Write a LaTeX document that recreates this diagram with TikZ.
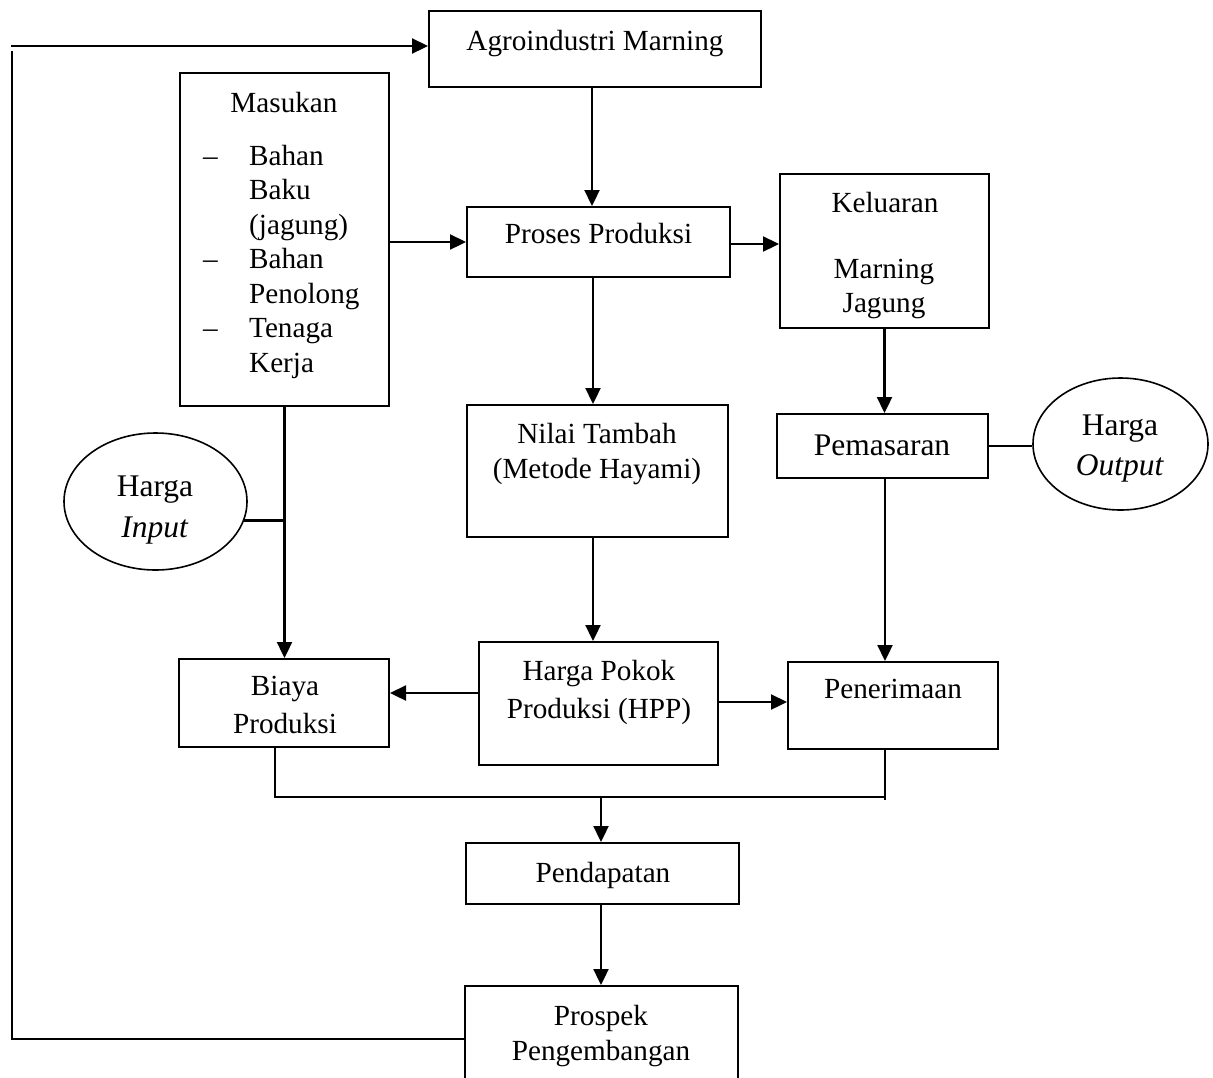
\documentclass[tikz,border=0pt]{standalone}
\usepackage{fontspec}
\setmainfont{Liberation Serif}
\usetikzlibrary{arrows.meta,shapes.geometric}
\newcommand\mylines[1]{\begin{tabular}[t]{@{}c@{}}#1\end{tabular}}
\begin{document}
\begin{tikzpicture}[x=1pt,y=-1pt,
  box/.style={draw,line width=2pt,rectangle,inner sep=0pt},
  oval/.style={draw,line width=1.6pt,ellipse,inner sep=0pt},
  txt/.style={inner sep=0pt,anchor=base,font=\fontsize{29.2}{35}\selectfont},
  big/.style={inner sep=0pt,anchor=base,font=\fontsize{31.5}{40}\selectfont},
  conn/.style={line width=2.3pt},
  arr/.style={line width=2.3pt,-{Triangle[length=16pt,width=15pt]}}]
\useasboundingbox (0,0) rectangle (1213,1077);
\clip (0,0) rectangle (1213,1077);
\fill[white] (0,0) rectangle (1213,1077);

% boxes
\node[box,minimum width=332pt,minimum height=76pt] (agro) at (595,49) {};
\node[box,minimum width=209pt,minimum height=333pt] (masukan) at (284.5,239.5) {};
\node[box,minimum width=263pt,minimum height=70pt] (proses) at (598.5,242) {};
\node[box,minimum width=209pt,minimum height=154pt] (keluaran) at (884.5,251) {};
\node[box,minimum width=261pt,minimum height=132pt] (nilai) at (597.5,471) {};
\node[box,minimum width=211pt,minimum height=64pt] (pemasaran) at (882.5,446) {};
\node[oval,minimum width=175pt,minimum height=132pt] (hout) at (1120.5,444) {};
\node[oval,minimum width=183pt,minimum height=137pt] (hin) at (155.5,501.5) {};
\node[box,minimum width=210pt,minimum height=88pt] (biaya) at (284,703) {};
\node[box,minimum width=239pt,minimum height=123pt] (hpp) at (598.5,703.5) {};
\node[box,minimum width=210pt,minimum height=87pt] (penerimaan) at (893,705.5) {};
\node[box,minimum width=273pt,minimum height=61pt] (pendapatan) at (602.5,873.5) {};
\node[box,minimum width=273pt,minimum height=120pt] (prospek) at (601.5,1046) {};

% texts
\node[txt] (agro-t) at (595,50) {Agroindustri Marning};
\node[txt] (masukan-t) at (284,112) {Masukan};
\node[txt,anchor=base west,font=\fontsize{29.2}{34.5}\selectfont] (masukan-l) at (203,165)
  {\begin{tabular}[t]{@{}l@{}l@{}}
   \makebox[46pt][l]{–} & Bahan\\
   & Baku\\
   & (jagung)\\
   \makebox[46pt][l]{–} & Bahan\\
   & Penolong\\
   \makebox[46pt][l]{–} & Tenaga\\
   & Kerja
   \end{tabular}};
\node[txt] (proses-t) at (598.5,243) {Proses Produksi};
\node[txt] (keluaran-t) at (885,212) {Keluaran};
\node[txt,font=\fontsize{29.2}{34}\selectfont] (keluaran-l) at (884,278) {\mylines{Marning\\Jagung}};
\node[txt] (nilai-t) at (597,443) {\mylines{Nilai Tambah\\(Metode Hayami)}};
\node[big] (pemasaran-t) at (882,455) {Pemasaran};
\node[big] (hout-t) at (1120,435) {\mylines{Harga\\\textit{Output}}};
\node[big,font=\fontsize{31.5}{41}\selectfont] (hin-t) at (155,496) {\mylines{Harga\\\textit{Input}}};
\node[txt,font=\fontsize{29.2}{38}\selectfont] (biaya-t) at (285,695) {\mylines{Biaya\\Produksi}};
\node[txt,font=\fontsize{29.2}{38}\selectfont] (hpp-t) at (599,680) {\mylines{Harga Pokok\\Produksi (HPP)}};
\node[txt] (penerimaan-t) at (893,698) {Penerimaan};
\node[txt] (pendapatan-t) at (603,882) {Pendapatan};
\node[txt] (prospek-t) at (601,1025) {\mylines{Prospek\\Pengembangan}};

% helper coordinates
\coordinate (fbtop) at (11,46);
\coordinate (fbv) at (12,51);
\coordinate (fbc) at (12,1039);
\coordinate (cx) at (593,0);
\coordinate (ya) at (0,693);
\coordinate (yb) at (0,702);
\coordinate (jl) at (275,797);
\coordinate (jr) at (885,797);
\coordinate (jre) at (885,800);
\coordinate (jm) at (601,797);

% connectors
\draw[arr] (fbtop) -- (fbtop -| agro.west);
\draw[conn] (fbv) -- (fbc) -- (fbc -| prospek.west);
\draw[arr] ([xshift=-3pt]agro.south) -- ([xshift=-3pt]agro.south |- proses.north);
\draw[arr] (proses.west -| masukan.east) -- (proses.west);
\draw[arr] ([yshift=-2pt]proses.east) -- ([yshift=-2pt]proses.east -| keluaran.west);
\draw[arr] (proses.south -| cx) -- (nilai.north -| cx);
\draw[arr] (keluaran.south) -- (keluaran.south |- pemasaran.north);
\draw[conn] (pemasaran.east) -- (pemasaran.east -| hout.west);
\draw[arr] (pemasaran.south -| jr) -- (penerimaan.north -| jr);
\draw[arr] (masukan.south) -- (masukan.south |- biaya.north);
\draw[conn] (hin.-12) -- (hin.-12 -| masukan.south);
\draw[arr] (nilai.south -| cx) -- (hpp.north -| cx);
\draw[arr] (hpp.west |- ya) -- (biaya.east |- ya);
\draw[arr] (hpp.east |- yb) -- (penerimaan.west |- yb);
\draw[conn] (biaya.south -| jl) -- (jl) -- (jr) -- (jre);
\draw[conn] (penerimaan.south -| jr) -- (jr);
\draw[arr] (jm) -- (jm |- pendapatan.north);
\draw[arr] (pendapatan.south -| jm) -- (prospek.north -| jm);
\end{tikzpicture}
\end{document}
